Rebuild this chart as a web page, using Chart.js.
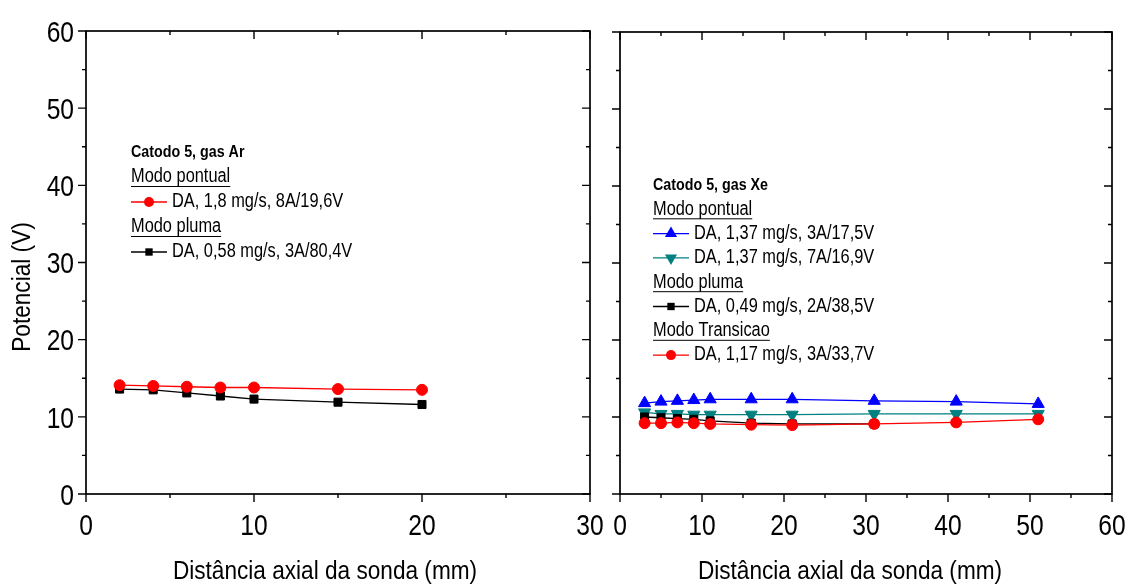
<!DOCTYPE html>
<html>
<head>
<meta charset="utf-8">
<script src="https://cdn.jsdelivr.net/npm/chart.js@4/dist/chart.umd.min.js"></script>
<style>
  body { margin: 0; background: #fff; width: 1129px; height: 588px; overflow: hidden; position: relative; }
  #chartAr { position: absolute; left: 0; top: 0; }
  #chartXe { position: absolute; left: 605px; top: 0; }
</style>
</head>
<body>
<canvas id="chartAr" width="605" height="588"></canvas>
<canvas id="chartXe" width="524" height="588"></canvas>
<script>
// ---- data ----
// left panel: catodo 5, gas Ar
const ar_x = [2, 4, 6, 8, 10, 15, 20];
const ar_pontual = [14.1, 14.0, 13.9, 13.8, 13.8, 13.6, 13.5];
const ar_pluma = [13.6, 13.5, 13.1, 12.7, 12.3, 11.9, 11.6];

// right panel: catodo 5, gas Xe
const xe_x = [3, 5, 7, 9, 11, 16, 21, 31, 41, 51];
const xe_pontual_3A = [11.8, 12.0, 12.1, 12.2, 12.3, 12.3, 12.3, 12.1, 12.0, 11.7];
const xe_pontual_7A = [10.6, 10.4, 10.4, 10.3, 10.3, 10.3, 10.3, 10.4, 10.4, 10.4];
const xe_pluma_x = [3, 5, 7, 9, 11, 16, 21, 31];
const xe_pluma = [10.0, 9.9, 9.8, 9.7, 9.5, 9.2, 9.1, 9.1];
const xe_transicao = [9.2, 9.2, 9.3, 9.2, 9.1, 9.0, 8.95, 9.1, 9.3, 9.7];

const x_title = 'Distância axial da sonda (mm)';
const y_title = 'Potencial (V)';

// Arial-narrow look: Liberation Sans squeezed sideways
const font_family = "'Liberation Sans', Arial, sans-serif";

function pts(xs, ys) {
    return ys.map((v, i) => ({x: xs[i], y: v}));
}

function series(data, color, style, radius, rotation) {
    return {
        data: data,
        borderColor: color,
        backgroundColor: color,
        borderWidth: 1.3,
        tension: 0,
        pointStyle: style,
        pointRadius: radius,
        pointRotation: rotation || 0,
        pointBorderWidth: 1,
        pointBorderColor: color,
        pointBackgroundColor: color
    };
}

function draw_marker(ctx, style, rot, r, x, y, color) {
    ctx.fillStyle = color;
    ctx.beginPath();
    if (style === 'circle') {
        ctx.arc(x, y, r, 0, Math.PI * 2);
    } else if (style === 'rect') {
        const s = r * Math.SQRT1_2;
        ctx.rect(x - s, y - s, 2 * s, 2 * s);
    } else {
        let a = rot * Math.PI / 180;
        ctx.moveTo(x + Math.sin(a) * r, y - Math.cos(a) * r);
        a += Math.PI * 2 / 3;
        ctx.lineTo(x + Math.sin(a) * r, y - Math.cos(a) * r);
        a += Math.PI * 2 / 3;
        ctx.lineTo(x + Math.sin(a) * r, y - Math.cos(a) * r);
        ctx.closePath();
    }
    ctx.fill();
}

function narrow_text(ctx, text, x, y, squeeze, align, rot) {
    ctx.save();
    ctx.translate(x, y);
    if (rot) ctx.rotate(rot * Math.PI / 180);
    ctx.scale(squeeze, 1);
    ctx.textAlign = align;
    ctx.fillText(text, 0, 0);
    ctx.restore();
}

// frame, minor ticks, tick labels, axis titles and the in-plot legend
const framePlugin = {
    id: 'frame',
    afterDraw(chart, args, o) {
        const ctx = chart.ctx;
        const a = chart.chartArea;
        const xs = chart.scales.x, ys = chart.scales.y;
        ctx.save();
        ctx.strokeStyle = '#000';
        ctx.lineWidth = 1.7;
        ctx.strokeRect(a.left, a.top, a.right - a.left, a.bottom - a.top);

        ctx.lineWidth = 1.4;
        ctx.beginPath();
        for (let v = xs.min; v <= xs.max; v += 5) {
            const len = v % 10 === 0 ? 8 : 4;
            const px = xs.getPixelForValue(v);
            ctx.moveTo(px, a.bottom); ctx.lineTo(px, a.bottom + len);
            ctx.moveTo(px, a.top); ctx.lineTo(px, a.top + len);
        }
        for (let v = ys.min; v <= ys.max; v += 5) {
            const len = v % 10 === 0 ? 8 : 4;
            const py = ys.getPixelForValue(v);
            ctx.moveTo(a.left, py); ctx.lineTo(a.left - len, py);
            ctx.moveTo(a.right, py); ctx.lineTo(a.right - len, py);
        }
        ctx.stroke();

        // tick labels from the scales' own ticks
        ctx.fillStyle = '#000';
        ctx.textBaseline = 'alphabetic';
        ctx.font = '30px ' + font_family;
        xs.ticks.forEach(t => {
            narrow_text(ctx, String(t.value), xs.getPixelForValue(t.value), a.bottom + 41, 0.82, 'center');
        });
        if (o.ylabels) {
            ys.ticks.forEach(t => {
                narrow_text(ctx, String(t.value), a.left - 12, ys.getPixelForValue(t.value) + 10.7, 0.82, 'right');
            });
        }

        // axis titles
        ctx.textBaseline = 'middle';
        ctx.font = '26px ' + font_family;
        o.titles.forEach(t => {
            narrow_text(ctx, t.text, t.x, t.y, 0.87, 'center', t.rot);
        });

        // legend
        const lg = o.legend;
        lg.rows.forEach((row, i) => {
            const y = lg.y + i * lg.step;
            ctx.fillStyle = '#000';
            if (row.title) {
                ctx.font = 'bold 17px ' + font_family;
                narrow_text(ctx, row.title, lg.x, y, 0.84, 'left');
            } else if (row.head) {
                ctx.font = '19.5px ' + font_family;
                narrow_text(ctx, row.head, lg.x, y, 0.84, 'left');
                const w = ctx.measureText(row.head).width * 0.84;
                ctx.strokeStyle = '#000';
                ctx.lineWidth = 1;
                ctx.beginPath();
                ctx.moveTo(lg.x, y + 9.5); ctx.lineTo(lg.x + w, y + 9.5);
                ctx.stroke();
            } else {
                const ds = chart.data.datasets[row.ds];
                ctx.strokeStyle = ds.borderColor;
                ctx.lineWidth = 1.3;
                ctx.beginPath();
                ctx.moveTo(lg.x, y); ctx.lineTo(lg.x + 36, y);
                ctx.stroke();
                const r = ds.pointStyle === 'circle' ? 5 : (ds.pointStyle === 'rect' ? 5.2 : 7);
                draw_marker(ctx, ds.pointStyle, ds.pointRotation, r, lg.x + 18, y, ds.borderColor);
                ctx.fillStyle = '#000';
                ctx.font = '19.5px ' + font_family;
                narrow_text(ctx, row.text, lg.x + 41, y, 0.84, 'left');
            }
        });
        ctx.restore();
    }
};

function make_chart(id, datasets, xmax, opts) {
    return new Chart(document.getElementById(id), {
        type: 'line',
        data: { datasets: datasets },
        options: {
            responsive: false,
            animation: false,
            layout: { padding: opts.padding },
            plugins: {
                legend: { display: false },
                tooltip: { enabled: false },
                frame: opts.frame
            },
            scales: {
                x: {
                    type: 'linear',
                    min: 0,
                    max: xmax,
                    grid: { display: false, drawTicks: false },
                    border: { display: false },
                    ticks: { display: false, stepSize: 10 },
                    afterFit: s => { s.height = opts.xh; }
                },
                y: {
                    min: 0,
                    max: 60,
                    grid: { display: false, drawTicks: false },
                    border: { display: false },
                    ticks: { display: false, stepSize: 10 },
                    afterFit: s => { s.width = opts.yw; }
                }
            }
        },
        plugins: [framePlugin]
    });
}

// first dataset is drawn on top
const ar_datasets = [
    series(pts(ar_x, ar_pontual), '#ff0000', 'circle', 5.5),
    series(pts(ar_x, ar_pluma), '#000000', 'rect', 5.7)
];

const xe_datasets = [
    series(pts(xe_x, xe_transicao), '#ff0000', 'circle', 5.5),
    series(pts(xe_pluma_x, xe_pluma), '#000000', 'rect', 5.7),
    series(pts(xe_x, xe_pontual_7A), '#008080', 'triangle', 7, 180),
    series(pts(xe_x, xe_pontual_3A), '#0000ff', 'triangle', 7)
];

make_chart('chartAr', ar_datasets, 30, {
    padding: { left: 0, right: 15, top: 31, bottom: 0 },
    yw: 86, xh: 94,
    frame: {
        ylabels: true,
        titles: [
            { text: y_title, x: 23, y: 287, rot: -90 },
            { text: x_title, x: 325, y: 572 }
        ],
        legend: {
            x: 131, y: 152, step: 25,
            rows: [
                { title: 'Catodo 5, gas Ar' },
                { head: 'Modo pontual' },
                { ds: 0, text: 'DA, 1,8 mg/s, 8A/19,6V' },
                { head: 'Modo pluma' },
                { ds: 1, text: 'DA, 0,58 mg/s, 3A/80,4V' }
            ]
        }
    }
});

make_chart('chartXe', xe_datasets, 60, {
    padding: { left: 0, right: 17, top: 32, bottom: 0 },
    yw: 15, xh: 94,
    frame: {
        ylabels: false,
        titles: [
            { text: x_title, x: 245, y: 572 }
        ],
        legend: {
            x: 48, y: 185, step: 24.3,
            rows: [
                { title: 'Catodo 5, gas Xe' },
                { head: 'Modo pontual' },
                { ds: 3, text: 'DA, 1,37 mg/s, 3A/17,5V' },
                { ds: 2, text: 'DA, 1,37 mg/s, 7A/16,9V' },
                { head: 'Modo pluma' },
                { ds: 1, text: 'DA, 0,49 mg/s, 2A/38,5V' },
                { head: 'Modo Transicao' },
                { ds: 0, text: 'DA, 1,17 mg/s, 3A/33,7V' }
            ]
        }
    }
});
</script>
</body>
</html>
